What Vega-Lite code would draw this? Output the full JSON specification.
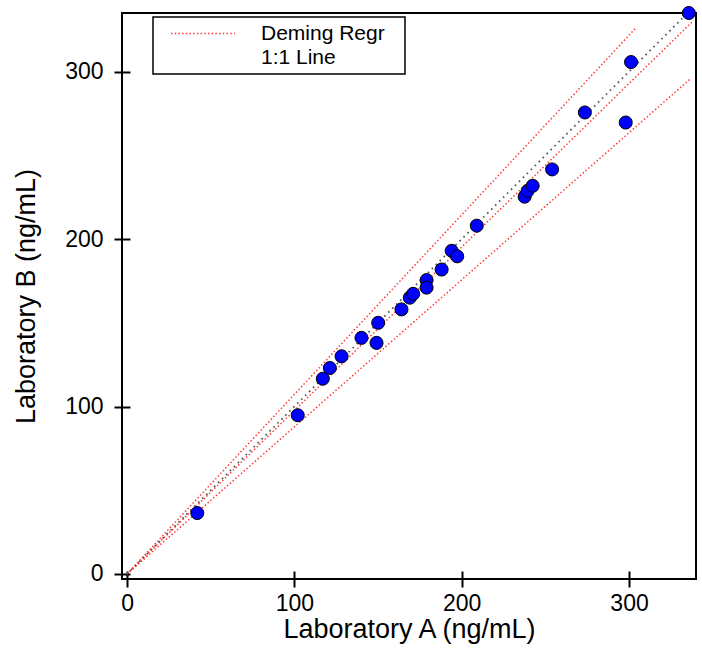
{
  "$schema": "https://vega.github.io/schema/vega-lite/v6.json",
  "autosize": "none",
  "width": 574,
  "height": 566,
  "padding": {"left": 122, "top": 13, "right": 6, "bottom": 83},
  "background": "white",
  "config": {
    "font": "Liberation Sans",
    "view": {"stroke": "black", "strokeWidth": 2},
    "axis": {
      "labelFont": "Liberation Sans",
      "titleFont": "Liberation Sans",
      "labelFontSize": 23,
      "titleFontSize": 27,
      "labelColor": "black",
      "titleColor": "black",
      "titleFontWeight": "normal",
      "grid": false,
      "domain": false,
      "tickColor": "black",
      "tickWidth": 2,
      "tickSize": 16,
      "offset": -8
    },
    "legend": {
      "labelFont": "Liberation Sans",
      "labelFontSize": 21,
      "labelColor": "black",
      "strokeWidth": 1.5
    }
  },
  "layer": [
    {
      "data": {
        "values": [
          {"series": "Deming Regr", "band": "fit", "a": 0, "b": 0},
          {"series": "Deming Regr", "band": "fit", "a": 338, "b": 330},
          {"series": "Deming Regr", "band": "upper", "a": 0, "b": 0},
          {"series": "Deming Regr", "band": "upper", "a": 304, "b": 326},
          {"series": "Deming Regr", "band": "lower", "a": 0, "b": 0},
          {"series": "Deming Regr", "band": "lower", "a": 337, "b": 296}
        ]
      },
      "mark": {"type": "line", "strokeWidth": 1.5, "strokeDash": [1.5, 2.2], "clip": true},
      "encoding": {
        "x": {"field": "a", "type": "quantitative"},
        "y": {"field": "b", "type": "quantitative"},
        "detail": {"field": "band"},
        "color": {
          "field": "series",
          "type": "nominal",
          "scale": {"domain": ["Deming Regr", "1:1 Line"], "range": ["#ff3b3b", "transparent"]},
          "legend": {
            "title": "\u00a0",
            "titleOrient": "right",
            "titlePadding": 14,
            "titleFontSize": 12,
            "orient": "none",
            "legendX": 31,
            "legendY": 4,
            "symbolType": "M-4,0H4",
            "symbolSize": 256,
            "symbolStrokeWidth": 1.5,
            "symbolDash": [1.5, 2.2],
            "symbolOffset": 33.5,
            "labelOffset": 47.5,
            "padding": 6,
            "rowPadding": 2,
            "strokeColor": "black",
            "fillColor": "white"
          }
        }
      }
    },
    {
      "data": {
        "values": [
          {"series": "1:1 Line", "a": 0, "b": 0},
          {"series": "1:1 Line", "a": 336, "b": 336}
        ]
      },
      "mark": {"type": "line", "stroke": "#555555", "strokeWidth": 1.8, "strokeDash": [1.6, 4], "clip": true},
      "encoding": {
        "x": {"field": "a", "type": "quantitative"},
        "y": {"field": "b", "type": "quantitative"},
        "detail": {"field": "series"}
      }
    },
    {
      "data": {
        "values": [
          {"a": 42, "b": 36.4},
          {"a": 102, "b": 94.8},
          {"a": 117, "b": 116.6},
          {"a": 121.2, "b": 123},
          {"a": 128.2, "b": 130},
          {"a": 140.1, "b": 141},
          {"a": 149.1, "b": 138},
          {"a": 150.1, "b": 150},
          {"a": 164, "b": 158},
          {"a": 169, "b": 165},
          {"a": 171, "b": 167.3},
          {"a": 179, "b": 175.5},
          {"a": 179, "b": 171},
          {"a": 188, "b": 181.8},
          {"a": 194, "b": 193},
          {"a": 197.3, "b": 189.7},
          {"a": 209, "b": 208},
          {"a": 237.6, "b": 225.3},
          {"a": 239.4, "b": 228.8},
          {"a": 242.4, "b": 231.8},
          {"a": 254, "b": 241.6},
          {"a": 273.6, "b": 275.6},
          {"a": 298, "b": 269.6},
          {"a": 301.2, "b": 305.7},
          {"a": 335.7, "b": 335}
        ]
      },
      "mark": {"type": "point", "shape": "circle", "filled": true, "fill": "#0000ff", "stroke": "black", "strokeWidth": 1, "size": 170, "opacity": 1, "clip": false},
      "encoding": {
        "x": {"field": "a", "type": "quantitative"},
        "y": {"field": "b", "type": "quantitative"}
      }
    }
  ],
  "encoding": {
    "x": {
      "field": "a",
      "type": "quantitative",
      "title": "Laboratory A (ng/mL)",
      "scale": {"domain": [-3, 340], "nice": false, "zero": false},
      "axis": {"values": [0, 100, 200, 300], "labelPadding": 5, "titlePadding": 1}
    },
    "y": {
      "field": "b",
      "type": "quantitative",
      "title": "Laboratory B (ng/mL)",
      "scale": {"domain": [-3, 335], "nice": false, "zero": false},
      "axis": {"values": [0, 100, 200, 300], "labelPadding": 11, "titlePadding": 24}
    }
  }
}
